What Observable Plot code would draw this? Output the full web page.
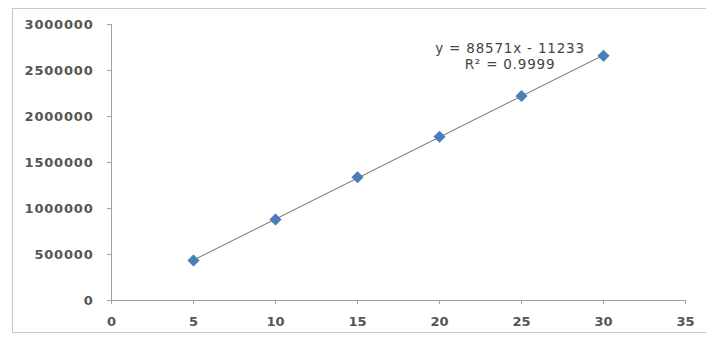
<!DOCTYPE html>
<html><head><meta charset="utf-8">
<script src="https://cdn.jsdelivr.net/npm/d3@7"></script>
<script src="https://cdn.jsdelivr.net/npm/@observablehq/plot@0.6"></script>
<style>
body{margin:0;background:#fff;}
#wrap{position:relative;width:706px;height:339px;}
#border{position:absolute;left:12px;top:8px;width:694px;height:325px;border:1px solid #c8c8c8;box-sizing:border-box;border-right:none;}
svg{position:absolute;left:0;top:0;}
.ytick text{letter-spacing:0.8px;}
.ann text{letter-spacing:0.8px;}
</style>
</head><body>
<div id="wrap"><div id="border"></div></div>
<script>
const xs = [5, 10, 15, 20, 25, 30];
const ys = [435000, 880000, 1340000, 1780000, 2222000, 2660000];
const xTicks = [0, 5, 10, 15, 20, 25, 30, 35];
const yTicks = [0, 500000, 1000000, 1500000, 2000000, 2500000, 3000000];
const annotation = ["y = 88571x - 11233", "R² = 0.9999"];
const annotationPos = {x: 24.3, y: 2750000};

const data = xs.map((x, i) => ({x, y: ys[i]}));

const chart = Plot.plot({
  width: 706, height: 339,
  marginLeft: 111, marginRight: 21, marginTop: 24, marginBottom: 39,
  style: {fontFamily: "DejaVu Sans", fontSize: "12px", fontWeight: "bold", color: "#555", background: "transparent"},
  x: {domain: [0, 35], label: null},
  y: {domain: [0, 3000000], label: null},
  marks: [
    Plot.ruleY([0], {stroke: "#a0a0a0"}),
    Plot.ruleX([0], {stroke: "#a0a0a0"}),
    Plot.axisX({ticks: xTicks, tickFormat: d => String(d), tickSize: 4, tickPadding: 12, stroke: "#a0a0a0", fill: "#555", fontSize: 13, label: null}),
    Plot.axisY({ticks: yTicks, tickFormat: d => String(d), tickSize: 4, tickPadding: 14, stroke: "#a0a0a0", fill: "#555", fontSize: 13, label: null, className: "ytick"}),
    Plot.linearRegressionY(data, {x: "x", y: "y", stroke: "#6e6e6e", strokeWidth: 1, ci: 0}),
    Plot.dot(data, {x: "x", y: "y", symbol: "diamond2", r: 5.2, fill: "#4a7ebb", stroke: "#3f6fa8", strokeWidth: 0.5}),
    Plot.text([annotation.join("\n")], {x: () => annotationPos.x, y: () => annotationPos.y, text: d => d, fill: "#444", fontSize: 13.5, fontWeight: "normal", lineHeight: 1.2, dy: 8, className: "ann"})
  ]
});
document.getElementById("wrap").appendChild(chart);
</script>
</body></html>
